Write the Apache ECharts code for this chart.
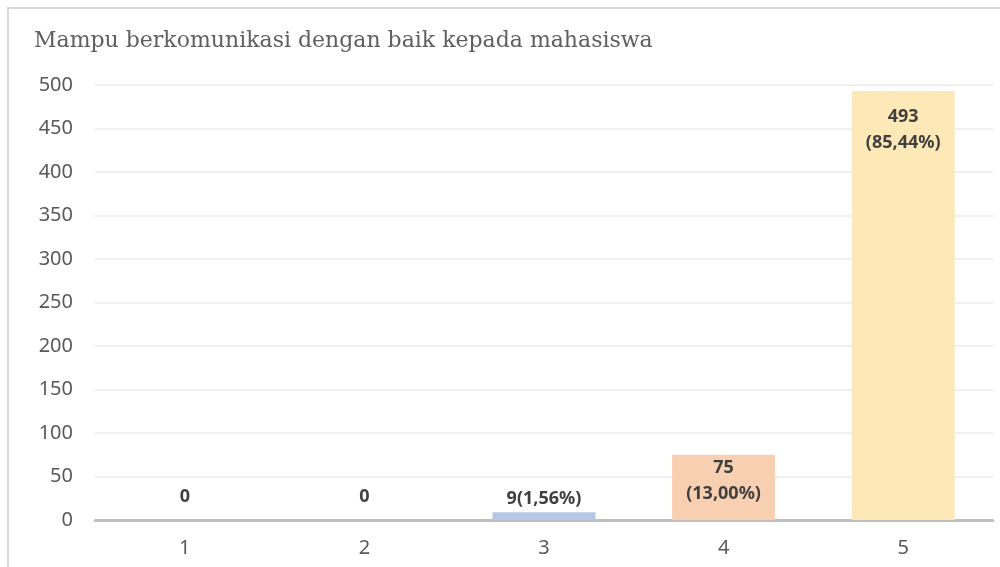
<!DOCTYPE html>
<html>
<head>
<meta charset="utf-8">
<script src="https://cdn.jsdelivr.net/npm/echarts@6/dist/echarts.min.js"></script>
<style>
  html, body { margin: 0; padding: 0; background: #fff; }
  #main { width: 1000px; height: 567px; }
</style>
</head>
<body>
<div id="main"></div>
<script>
  // data
  const categories = ['1', '2', '3', '4', '5'];
  const counts = [0, 0, 9, 75, 493];
  const percents = [0, 0, 1.56, 13.00, 85.44];
  const barColors = ['#b4c7e7', '#b4c7e7', '#b4c7e7', '#f8cfb0', '#fde9b7'];
  const yTicks = [0, 50, 100, 150, 200, 250, 300, 350, 400, 450, 500];

  function pctText(p) {
    return p.toFixed(2).replace('.', ',') + '%';
  }

  // label placement per bar (Excel style)
  const labelPos = [
    { position: 'top', distance: 10, sep: '' },
    { position: 'top', distance: 10, sep: '' },
    { position: 'top', distance: 0, sep: '' },
    { position: 'insideTop', distance: 0, sep: '\n' },
    { position: 'insideTop', distance: 13, sep: '\n' }
  ];

  const seriesData = counts.map(function (v, i) {
    const lp = labelPos[i];
    return {
      value: v,
      itemStyle: { color: barColors[i] },
      label: {
        show: true,
        position: lp.position,
        distance: lp.distance,
        formatter: v === 0 ? String(v) : v + lp.sep + '(' + pctText(percents[i]) + ')'
      }
    };
  });

  const chart = echarts.init(document.getElementById('main'));
  chart.setOption({
    animation: false,
    backgroundColor: '#fff',
    title: {
      text: 'Mampu berkomunikasi dengan baik kepada mahasiswa',
      left: 29,
      top: 25,
      textStyle: {
        fontFamily: 'DejaVu Serif',
        fontWeight: 'normal',
        fontSize: 22,
        color: '#5f5f5f'
      }
    },
    graphic: [{
      type: 'polyline',
      shape: { points: [[8, 567], [8, 8], [1000, 8]] },
      style: { stroke: '#d9d9d9', lineWidth: 2, fill: null }
    }],
    grid: { left: 95, right: 7, top: 85, bottom: 47 },
    xAxis: {
      type: 'category',
      data: categories,
      axisLine: { lineStyle: { color: '#bfbfbf', width: 3 } },
      axisTick: { show: false },
      axisLabel: {
        margin: 18,
        fontFamily: 'Noto Sans',
        fontSize: 20,
        color: '#595959'
      }
    },
    yAxis: {
      type: 'value',
      min: yTicks[0],
      max: yTicks[yTicks.length - 1],
      interval: yTicks[1] - yTicks[0],
      axisLine: { show: false },
      axisTick: { show: false },
      axisLabel: {
        margin: 22,
        fontFamily: 'Noto Sans',
        fontSize: 20,
        color: '#595959'
      },
      splitLine: { lineStyle: { color: '#efefef', width: 2 } }
    },
    series: [{
      type: 'bar',
      barWidth: 103,
      data: seriesData,
      label: {
        fontFamily: 'Noto Sans',
        fontWeight: 'bold',
        fontSize: 18,
        lineHeight: 26,
        color: '#404040'
      }
    }]
  });
</script>
</body>
</html>
